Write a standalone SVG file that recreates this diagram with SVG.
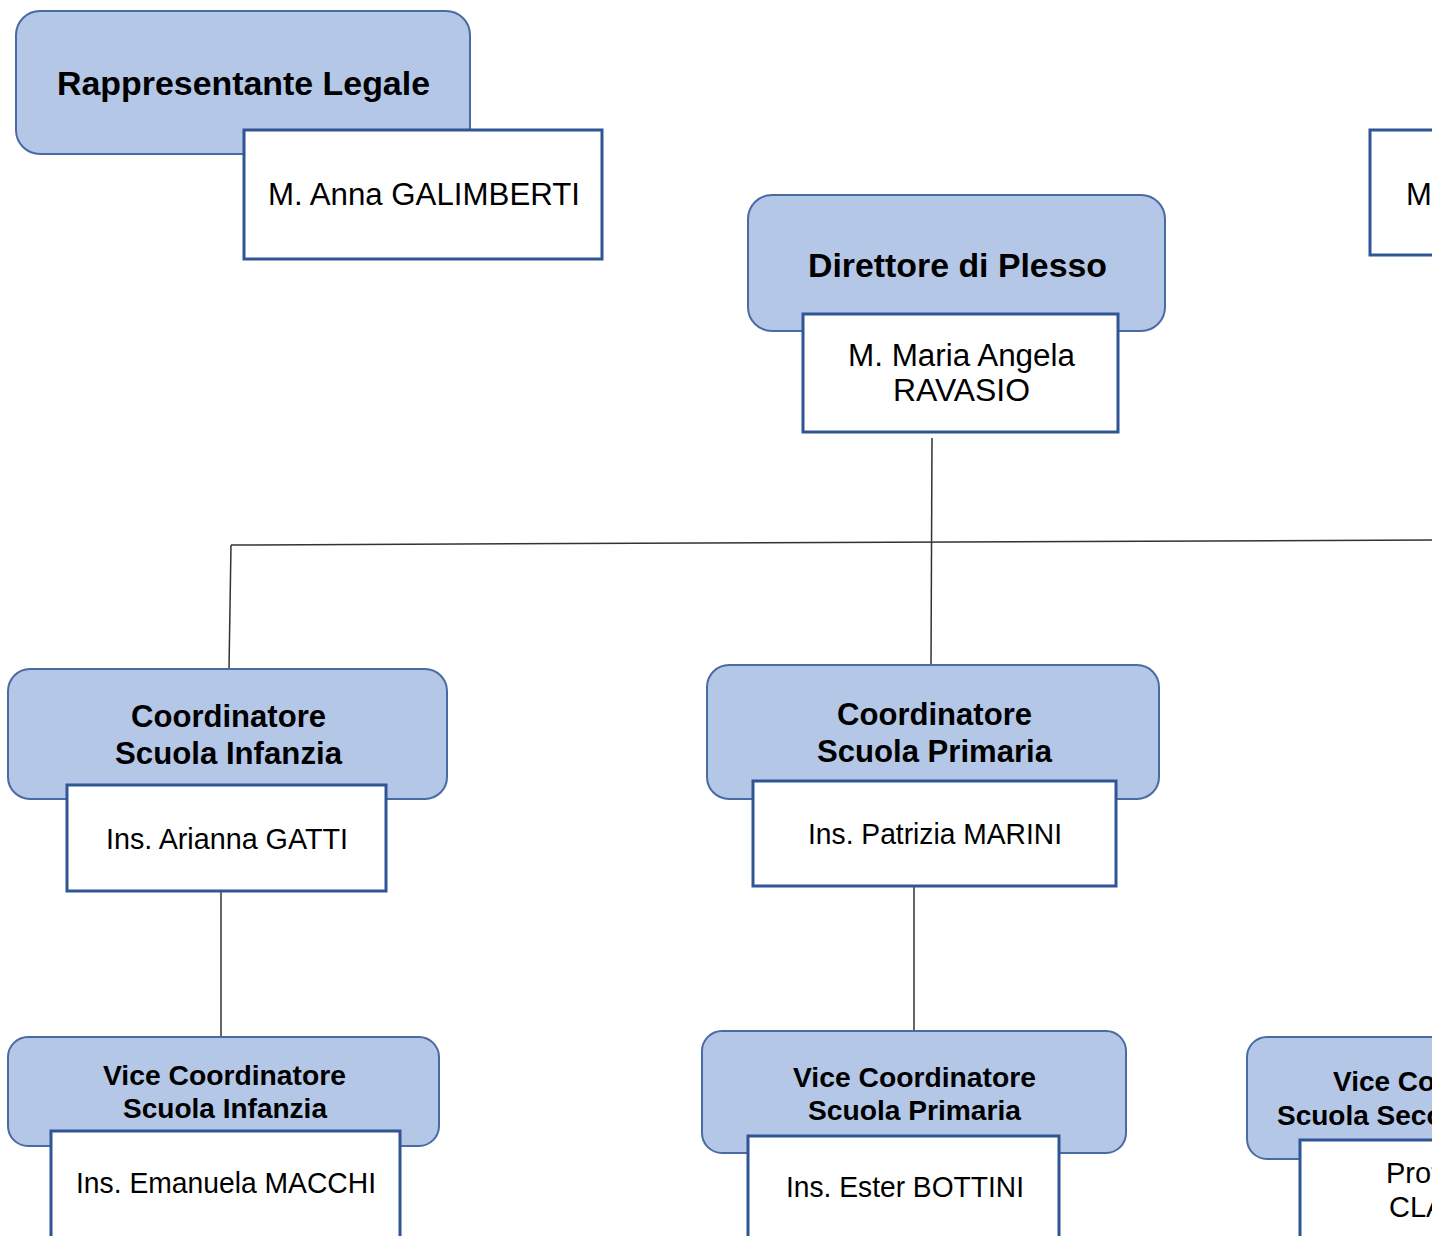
<svg xmlns="http://www.w3.org/2000/svg" width="1432" height="1236" viewBox="0 0 1432 1236">
<style>
.role{fill:#B4C7E7;stroke:#4A6AA3;stroke-width:2}
.name{fill:#FFFFFF;stroke:#2F5597;stroke-width:3}
.t{font-family:"Liberation Sans",Arial,sans-serif;fill:#000}
.b{font-weight:bold}
.conn{stroke:#333;stroke-width:1.5;fill:none}
</style>
<rect width="1432" height="1236" fill="#fff"/>
<g id="connectors">
<line class="conn" x1="932" y1="438" x2="931" y2="664"/>
<line class="conn" x1="231" y1="545" x2="1432" y2="540"/>
<line class="conn" x1="231" y1="545" x2="229" y2="669"/>
<line class="conn" x1="221" y1="892" x2="221" y2="1038"/>
<line class="conn" x1="914" y1="887" x2="914" y2="1032"/>
</g>
<g id="rappresentante-legale">
<rect class="role" x="16" y="11" width="454" height="143" rx="24"/>
<text class="t b" x="57" y="95" font-size="34" textLength="373" lengthAdjust="spacingAndGlyphs">Rappresentante Legale</text>
<rect class="name" x="244" y="130" width="358" height="129"/>
<text class="t" x="268" y="205" font-size="31" textLength="312" lengthAdjust="spacingAndGlyphs">M. Anna GALIMBERTI</text>
</g>
<g id="top-right">
<rect class="name" x="1370" y="130" width="80" height="125"/>
<text class="t" x="1406" y="205" font-size="31">M</text>
</g>
<g id="direttore-plesso">
<rect class="role" x="748" y="195" width="417" height="136" rx="24"/>
<text class="t b" x="808" y="277" font-size="34" textLength="299" lengthAdjust="spacingAndGlyphs">Direttore di Plesso</text>
<rect class="name" x="803" y="314" width="315" height="118"/>
<text class="t" x="848" y="366" font-size="31" textLength="227" lengthAdjust="spacingAndGlyphs">M. Maria Angela</text>
<text class="t" x="893" y="401" font-size="31" textLength="137" lengthAdjust="spacingAndGlyphs">RAVASIO</text>
</g>
<g id="coord-infanzia">
<rect class="role" x="8" y="669" width="439" height="130" rx="22"/>
<text class="t b" x="131" y="727" font-size="31" textLength="195" lengthAdjust="spacingAndGlyphs">Coordinatore</text>
<text class="t b" x="115" y="764" font-size="31" textLength="227" lengthAdjust="spacingAndGlyphs">Scuola Infanzia</text>
<rect class="name" x="67" y="785" width="319" height="106"/>
<text class="t" x="106" y="849" font-size="29" textLength="242" lengthAdjust="spacingAndGlyphs">Ins. Arianna GATTI</text>
</g>
<g id="coord-primaria">
<rect class="role" x="707" y="665" width="452" height="134" rx="22"/>
<text class="t b" x="837" y="725" font-size="31" textLength="195" lengthAdjust="spacingAndGlyphs">Coordinatore</text>
<text class="t b" x="817" y="762" font-size="31" textLength="235" lengthAdjust="spacingAndGlyphs">Scuola Primaria</text>
<rect class="name" x="753" y="781" width="363" height="105"/>
<text class="t" x="808" y="844" font-size="29" textLength="254" lengthAdjust="spacingAndGlyphs">Ins. Patrizia MARINI</text>
</g>
<g id="vice-infanzia">
<rect class="role" x="8" y="1037" width="431" height="109" rx="20"/>
<text class="t b" x="103" y="1085" font-size="28" textLength="243" lengthAdjust="spacingAndGlyphs">Vice Coordinatore</text>
<text class="t b" x="123" y="1118" font-size="28" textLength="204" lengthAdjust="spacingAndGlyphs">Scuola Infanzia</text>
<rect class="name" x="51" y="1131" width="349" height="115"/>
<text class="t" x="76" y="1193" font-size="29" textLength="300" lengthAdjust="spacingAndGlyphs">Ins. Emanuela MACCHI</text>
</g>
<g id="vice-primaria">
<rect class="role" x="702" y="1031" width="424" height="122" rx="20"/>
<text class="t b" x="793" y="1087" font-size="28" textLength="243" lengthAdjust="spacingAndGlyphs">Vice Coordinatore</text>
<text class="t b" x="808" y="1120" font-size="28" textLength="213" lengthAdjust="spacingAndGlyphs">Scuola Primaria</text>
<rect class="name" x="748" y="1136" width="311" height="110"/>
<text class="t" x="786" y="1197" font-size="29" textLength="238" lengthAdjust="spacingAndGlyphs">Ins. Ester BOTTINI</text>
</g>
<g id="vice-secondaria">
<rect class="role" x="1247" y="1037" width="240" height="122" rx="20"/>
<text class="t b" x="1333" y="1091" font-size="28">Vice Coordinatore</text>
<text class="t b" x="1277" y="1125" font-size="28">Scuola Secondaria</text>
<rect class="name" x="1300" y="1140" width="200" height="110"/>
<text class="t" x="1386" y="1183" font-size="29">Prof</text>
<text class="t" x="1389" y="1217" font-size="29">CLA</text>
</g>
</svg>
